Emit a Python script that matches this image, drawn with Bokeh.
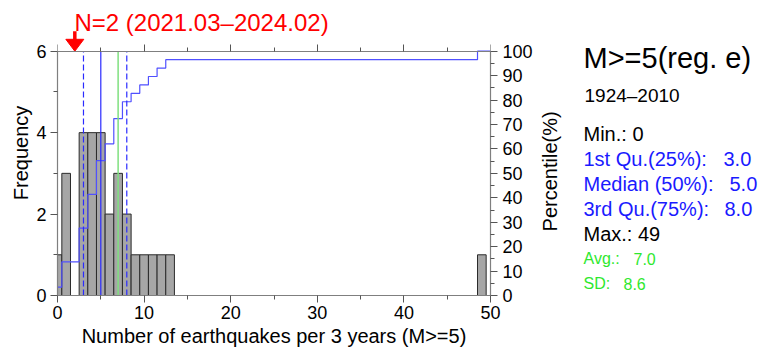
import math
import numpy as np
from bokeh.plotting import figure
from bokeh.layouts import row
from bokeh.models import Range1d, LinearAxis, FixedTicker, ColumnDataSource
from bokeh.core.properties import value
from bokeh.embed import file_html
from bokeh.resources import INLINE

# ---- data ----
n_per_period = list(range(0, 51))
frequency = [1, 3, 0, 4, 4, 4, 2, 3, 2, 1, 1, 1, 1, 1] + [0] * 35 + [1, 0]
q1_value = 3.0
median_value = 5.0
q3_value = 8.0
mean_value = 7.0
current_n = 2
title_text = "M>=5(reg. e)"
period_text = "1924\u20132010"
current_text = "N=2 (2021.03\u20132024.02)"
stats_black = ["Min.: 0", "Max.: 49"]
stats_blue = [("1st Qu.(25%):", "3.0"), ("Median (50%):", "5.0"), ("3rd Qu.(75%):", "8.0")]
stats_green = [("Avg.:", "7.0"), ("SD:", "8.6")]

freq = np.array(frequency, dtype=float)
pct = np.cumsum(freq) / freq.sum() * 100.0

# ---- layout geometry (page pixels) ----
W, H = 762, 349
PW = 535                      # width of the chart figure; text panel to its right
FL, FR, FT, FB = 57, 491, 51, 297   # pixel positions of x=0, x=50, y=6, y=0
FTOP = 10                     # top of the plotting frame (room above for the N= marker)
XMIN, XMAX, YMIN, YMAX = 0, 50, 0, 6
YTOP = YMAX * (FB - FTOP) / (FB - FT)
PTOP = 100 * (FB - FTOP) / (FB - FT)

FONT = "Liberation Sans"
AX = "#7f7f7f"

p = figure(width=PW, height=H, output_backend="svg", toolbar_location=None,
           x_range=Range1d(XMIN, XMAX), y_range=Range1d(YMIN, YTOP),
           min_border_left=FL, min_border_right=PW - FR, min_border_top=FTOP, min_border_bottom=H - FB,
           background_fill_color="white", border_fill_color="white")
p.extra_y_ranges = {"pct": Range1d(0, PTOP)}
p.outline_line_color = None
p.grid.grid_line_color = None


def style(ax, major, minor, lab=True):
    ax.ticker = FixedTicker(ticks=major, minor_ticks=minor)
    ax.axis_line_color = AX
    ax.axis_line_width = 1.2
    ax.major_tick_line_color = "#555555"
    ax.minor_tick_line_color = "#555555"
    ax.major_tick_out = 7
    ax.major_tick_in = 0
    ax.minor_tick_out = 4
    ax.minor_tick_in = 0
    ax.major_label_text_font = FONT
    ax.major_label_text_font_size = "18px"
    ax.major_label_text_color = "black"
    ax.axis_label_text_font = FONT
    ax.axis_label_text_font_size = "20px"
    ax.axis_label_text_font_style = "normal"
    ax.axis_label_text_color = "black"
    if not lab:
        ax.major_label_text_font_size = "1px"
        ax.major_label_text_color = None
        ax.major_label_standoff = 0


xa = p.xaxis[0]
style(xa, [0, 10, 20, 30, 40, 50], [5, 15, 25, 35, 45])
xa.axis_label = "Number of earthquakes per 3 years (M>=5)"
xa.major_label_standoff = 3
xa.axis_label_standoff = 3

ya = p.yaxis[0]
style(ya, [0, 2, 4, 6], [1, 3, 5])
ya.bounds = (YMIN, YMAX)
ya.axis_label = "Frequency"
ya.major_label_standoff = 4
ya.axis_label_standoff = 1

ra = LinearAxis(y_range_name="pct")
style(ra, list(range(0, 101, 10)), list(range(5, 100, 10)))
ra.bounds = (0, 100)
ra.major_label_standoff = 5
p.add_layout(ra, "right")

ta = LinearAxis(fixed_location=YMAX)
style(ta, [0, 10, 20, 30, 40, 50], [5, 15, 25, 35, 45], lab=False)
p.add_layout(ta, "above")

# histogram bars
nz = freq > 0
src = ColumnDataSource(dict(x=np.array(n_per_period)[nz], top=freq[nz]))
p.vbar(x="x", top="top", width=1.0, bottom=0, source=src,
       fill_color="#a6a6a6", line_color="#2b2b2b", line_width=1)

# percentile (ECDF) step line
p.step(x=n_per_period, y=pct, mode="center", y_range_name="pct",
       line_color="#5050ff", line_width=1.2)

# vertical reference lines (from 0 up to the top of the frequency axis)
p.segment(x0=[q1_value, q3_value], y0=[YMIN, YMIN], x1=[q1_value, q3_value], y1=[YMAX, YMAX],
          line_color="#2a2aff", line_dash="6 3", line_width=1.2)
p.segment(x0=[median_value], y0=[YMIN], x1=[median_value], y1=[YMAX],
          line_color="#2a2aff", line_width=1.2)
p.segment(x0=[mean_value], y0=[YMIN], x1=[mean_value], y1=[YMAX],
          line_color="#7fe07f", line_width=1.5)


def dx(px):
    return XMIN + (px - FL) * (XMAX - XMIN) / (FR - FL)


def dy(py):
    return YMIN + (FB - py) * (YMAX - YMIN) / (FB - FT)


# current-period marker: red text, shaft and triangular head pointing at the axis
p.text(x=[dx(74)], y=[dy(22)], text=[current_text], text_font=value(FONT),
       text_font_size=value("24px"), text_color="red", text_align="left", text_baseline="middle")
half_w = dx(FL + 9) - dx(FL)
p.segment(x0=[current_n], y0=[dy(31)], x1=[current_n], y1=[dy(41)], line_color="red", line_width=3.5)
p.patch(x=[current_n - half_w, current_n + half_w, current_n], y=[dy(39), dy(39), YMAX],
        fill_color="red", line_color="red", line_width=1)

# ---- text panel on the right (frame aligned with the chart frame) ----
QW = W - PW
q = figure(width=QW, height=H, output_backend="svg", toolbar_location=None,
           x_range=Range1d(0, QW), y_range=Range1d(H - FB, H - FTOP),
           x_axis_type=None, y_axis_type=None,
           min_border_left=0, min_border_right=0, min_border_top=FTOP, min_border_bottom=H - FB,
           background_fill_color="white", border_fill_color="white")
q.outline_line_color = None
q.grid.grid_line_color = None


def qtext(text, px, py, size, color="black", align="left", angle=0.0):
    q.text(x=[px - PW], y=[H - py], text=[text], text_font=value(FONT), text_font_size=value(size),
           text_color=color, text_align=align, text_baseline="middle", angle=angle)


qtext("Percentile(%)", 549, 172, "20px", align="center", angle=math.pi / 2)
qtext(title_text, 583, 58, "29px")
qtext(period_text, 584, 96, "19px")
qtext(stats_black[0], 583, 134, "20px")
blue = "#1a1aff"
qtext(stats_blue[0][0], 583, 160, "20px", blue)
qtext(stats_blue[0][1], 723, 160, "20px", blue)
qtext(stats_blue[1][0], 583, 185, "20px", blue)
qtext(stats_blue[1][1], 729, 185, "20px", blue)
qtext(stats_blue[2][0], 583, 210, "20px", blue)
qtext(stats_blue[2][1], 724, 210, "20px", blue)
qtext(stats_black[1], 583, 235, "20px")
green = "#2ee82e"
qtext(stats_green[0][0], 583, 260, "16px", green)
qtext(stats_green[0][1], 633, 260, "16px", green)
qtext(stats_green[1][0], 583, 285, "16px", green)
qtext(stats_green[1][1], 623, 285, "16px", green)

layout = row(p, q, spacing=0)
open("out.html", "w").write(file_html(layout, INLINE))
